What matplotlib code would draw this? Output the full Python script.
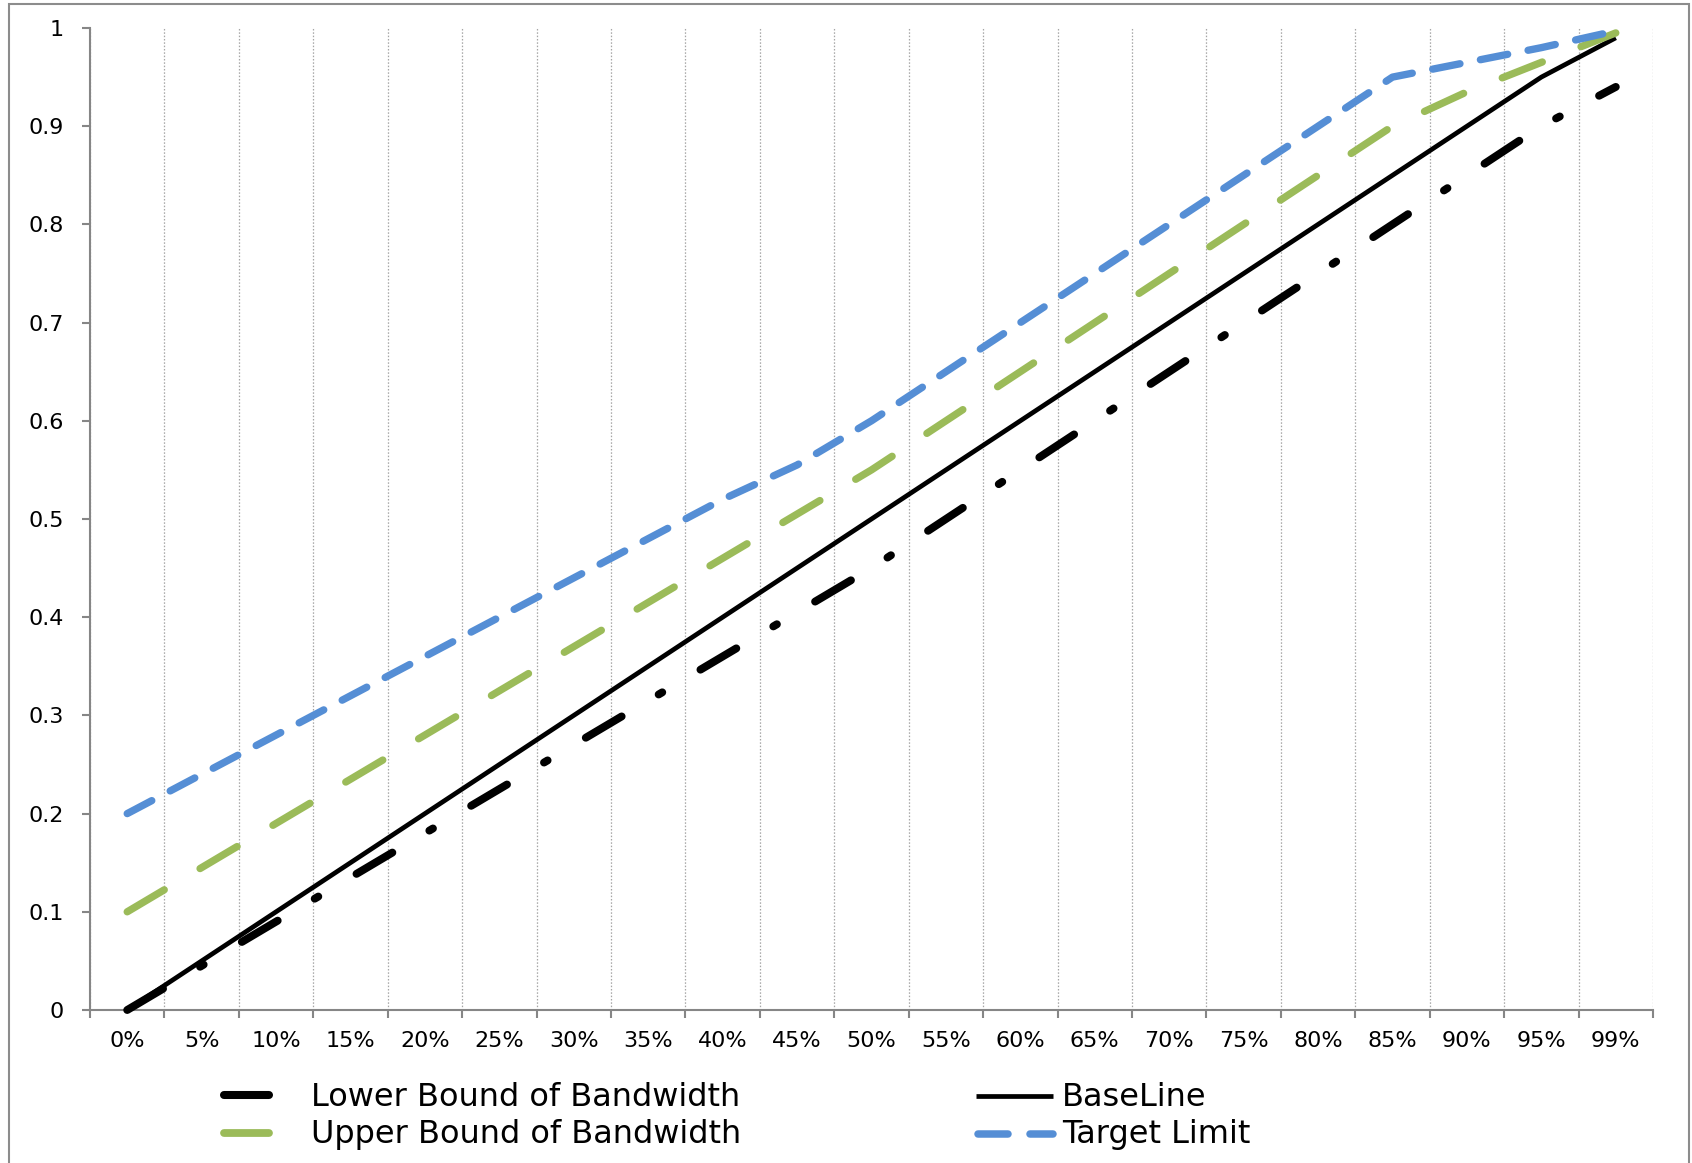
import matplotlib
matplotlib.use("Agg")
import matplotlib.pyplot as plt
import numpy as np
from matplotlib.lines import Line2D
from matplotlib.patches import Rectangle

# ---------------- data ----------------
categories = ["0%", "5%", "10%", "15%", "20%", "25%", "30%", "35%", "40%", "45%",
              "50%", "55%", "60%", "65%", "70%", "75%", "80%", "85%", "90%", "95%", "99%"]
baseline = [0.00, 0.05, 0.10, 0.15, 0.20, 0.25, 0.30, 0.35, 0.40, 0.45,
            0.50, 0.55, 0.60, 0.65, 0.70, 0.75, 0.80, 0.85, 0.90, 0.95, 0.99]
lower_bound = [0.000, 0.045, 0.090, 0.135, 0.180, 0.225, 0.270, 0.315, 0.360, 0.405,
               0.450, 0.500, 0.550, 0.600, 0.650, 0.700, 0.750, 0.800, 0.850, 0.900, 0.940]
upper_bound = [0.100, 0.145, 0.190, 0.235, 0.280, 0.325, 0.370, 0.415, 0.460, 0.505,
               0.550, 0.600, 0.650, 0.700, 0.750, 0.800, 0.850, 0.900, 0.935, 0.965, 0.995]
target_limit = [0.200, 0.240, 0.280, 0.320, 0.360, 0.400, 0.440, 0.480, 0.520, 0.555,
                0.600, 0.650, 0.700, 0.750, 0.800, 0.850, 0.900, 0.950, 0.965, 0.980, 0.997]
y_ticks = [0, 0.1, 0.2, 0.3, 0.4, 0.5, 0.6, 0.7, 0.8, 0.9, 1]
y_tick_labels = ["0", "0.1", "0.2", "0.3", "0.4", "0.5", "0.6", "0.7", "0.8", "0.9", "1"]
series_names = ["Lower Bound of Bandwidth", "Upper Bound of Bandwidth", "BaseLine", "Target Limit"]

# ---------------- style ----------------
plt.rcParams["lines.scale_dashes"] = False
plt.rcParams["font.family"] = ["DejaVu Sans"]

W, H = 1692, 1163
fig = plt.figure(figsize=(W / 100, H / 100), dpi=100)
fig.patch.set_facecolor("white")

def fx(px):
    return px / W

def fy(py):
    return 1 - py / H

ax = fig.add_axes([fx(90), fy(1010), (1653 - 90) / W, (1010 - 28) / H])

BLACK = "#000000"
GREEN = "#9BBB59"
BLUE = "#558ED5"
AXIS = "#868686"
GRID = "#A6A6A6"

x = np.arange(len(categories))

ax.plot(x, lower_bound, color=BLACK, lw=5.7, ls=(0, (30, 31, 3, 32)),
        dash_capstyle="round", solid_capstyle="round", clip_on=False, zorder=3)
ax.plot(x, baseline, color=BLACK, lw=3.4, solid_capstyle="butt",
        solid_joinstyle="round", clip_on=False, zorder=4)
ax.plot(x, upper_bound, color=GREEN, lw=5.3, ls=(0, (31, 30)),
        dash_capstyle="round", clip_on=False, zorder=5)
ax.plot(x, target_limit, color=BLUE, lw=5.3, ls=(0, (20, 15)),
        dash_capstyle="round", clip_on=False, zorder=6)

ax.set_xlim(-0.5, len(categories) - 0.5)
ax.set_ylim(0, 1)

ax.set_xticks(x)
ax.set_xticklabels(categories)
ax.set_xticks(np.arange(-0.5, len(categories), 1), minor=True)
ax.tick_params(axis="x", which="major", length=0, pad=15, labelsize=16)
ax.tick_params(axis="x", which="minor", length=5.8, width=1.5, color=AXIS, direction="out")

ax.set_yticks(y_ticks)
ax.set_yticklabels(y_tick_labels)
ax.tick_params(axis="y", which="major", length=5.8, width=1.5, color=AXIS,
               direction="out", pad=13, labelsize=16)

ax.grid(which="minor", axis="x", color=GRID, lw=0.9, ls=(0, (1.1, 1.3)))
ax.grid(which="major", axis="both", visible=False)
ax.set_axisbelow(True)

for s in ["top", "right"]:
    ax.spines[s].set_visible(False)
for s in ["left", "bottom"]:
    ax.spines[s].set_color(AXIS)
    ax.spines[s].set_linewidth(1.5)

# ---------------- legend (manual) ----------------
def hline(x0, x1, y, **kw):
    fig.add_artist(Line2D([fx(x0), fx(x1)], [fy(y), fy(y)], transform=fig.transFigure, **kw))

LEG_FS = 23
hline(224, 269, 1095, color=BLACK, lw=5.8, solid_capstyle="round")
hline(224, 269, 1133, color=GREEN, lw=5.6, solid_capstyle="round")
fig.text(fx(311), fy(1097), series_names[0], fontsize=LEG_FS, va="center", ha="left")
fig.text(fx(311), fy(1135), series_names[1], fontsize=LEG_FS, va="center", ha="left")

hline(976, 1053, 1096, color=BLACK, lw=3.4, solid_capstyle="butt")
hline(977.5, 1007.5, 1134, color=BLUE, lw=5.4, solid_capstyle="round")
hline(1029.5, 1052.5, 1134, color=BLUE, lw=5.4, solid_capstyle="round")
fig.text(fx(1062), fy(1097), series_names[2], fontsize=LEG_FS, va="center", ha="left")
fig.text(fx(1062), fy(1135), series_names[3], fontsize=LEG_FS, va="center", ha="left")

# ---------------- chart-area border ----------------
fig.add_artist(Rectangle((fx(9), fy(1180)), (1689 - 9) / W, (1180 - 4) / H,
                         transform=fig.transFigure, fill=False,
                         edgecolor="#8C8C8C", lw=1.5))

fig.savefig("out.png", dpi=100, facecolor="white")
